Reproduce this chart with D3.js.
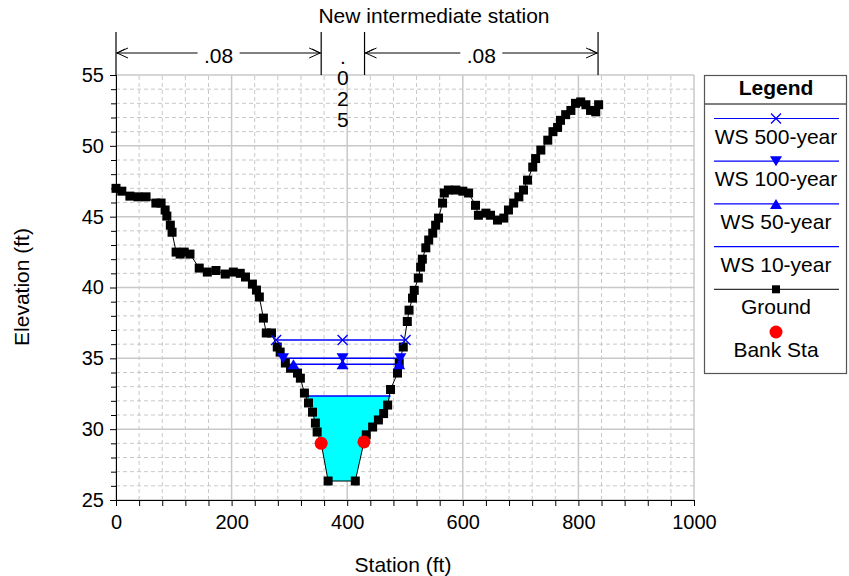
<!DOCTYPE html>
<html>
<head>
<meta charset="utf-8">
<script src="https://cdn.jsdelivr.net/npm/d3@7"></script>
<style>
  body { margin: 0; background: #fff; }
  svg { display: block; font-family: "Liberation Sans", Arial, sans-serif; }
</style>
</head>
<body>
<svg id="chart" width="849" height="576"></svg>
<script>
// ---------------- DATA ----------------
const groundStation = [0, 10, 24, 38, 52, 69, 78, 85, 88, 94, 97, 104, 111, 118, 128, 144, 158, 173, 189, 203, 215, 224, 236, 243, 248, 255, 260, 269, 279, 284, 293, 302, 314, 319, 326, 333, 340, 345, 348, 355, 367, 414, 429, 433, 444, 454, 463, 470, 475, 487, 490, 497, 504, 507, 513, 516, 523, 527, 530, 536, 541, 548, 553, 558, 565, 568, 575, 588, 600, 610, 622, 627, 640, 648, 660, 671, 679, 688, 697, 705, 712, 721, 726, 735, 747, 756, 764, 769, 778, 787, 795, 804, 813, 821, 830, 835];
const groundElev = [47.0, 46.8, 46.45, 46.4, 46.4, 45.96, 45.96, 45.47, 45.04, 44.4, 43.9, 42.5, 42.36, 42.5, 42.36, 41.37, 41.09, 41.2, 40.95, 41.09, 41.0, 40.74, 40.24, 39.82, 39.33, 37.84, 36.79, 36.79, 35.8, 35.44, 34.67, 34.3, 33.96, 33.6, 32.55, 31.85, 31.2, 30.43, 29.8, 29.0, 26.34, 26.34, 29.1, 29.6, 30.15, 30.65, 31.1, 31.7, 32.8, 33.96, 34.67, 35.8, 37.6, 38.4, 39.25, 39.8, 40.67, 41.44, 42.0, 42.8, 43.35, 43.84, 44.4, 44.9, 45.96, 46.67, 46.88, 46.88, 46.8, 46.67, 45.8, 45.1, 45.25, 45.1, 44.76, 44.9, 45.47, 45.96, 46.4, 46.88, 47.58, 48.5, 49.1, 49.7, 50.4, 51.0, 51.3, 51.8, 52.2, 52.5, 53.0, 53.1, 52.9, 52.5, 52.4, 52.9];

const bankStation = [355, 429];
const bankElev = [29.0, 29.1];

const wsNames = ["WS 500-year", "WS 100-year", "WS 50-year", "WS 10-year"];
const wsElev = [36.3, 35.0, 34.58, 32.34];
const wsLeft = [277, 289, 307, 328];
const wsRight = [501, 492, 490, 475];
const wsMarker = ["x", "down", "up", "none"];

const nBreaks = [0, 355, 430, 834];
const nValues = [".08", ".025", ".08"];
const topTitle = "New intermediate station";

const xMajorTicks = [0, 200, 400, 600, 800, 1000];
const yMajorTicks = [25, 30, 35, 40, 45, 50, 55];

// ---------------- LAYOUT ----------------
const svg = d3.select("#chart");
const x = d3.scaleLinear().domain([0, 1000]).range([116, 694]);
const y = d3.scaleLinear().domain([25, 55]).range([500, 75]);
const FS = 21;
const TFS = 20;
const blue = "#0000ff";
const MS = 9;

svg.append("rect").attr("width", 849).attr("height", 576).attr("fill", "#fff");

// grid
const xMinor = d3.range(0, 1001, 40).filter(v => !xMajorTicks.includes(v));
const yMinor = d3.range(25, 56, 1).filter(v => !yMajorTicks.includes(v));
const grid = svg.append("g");
grid.selectAll(".xm").data(xMinor).join("line")
  .attr("x1", d => x(d)).attr("x2", d => x(d)).attr("y1", y(25)).attr("y2", y(55))
  .attr("stroke", "#c8c8c8").attr("stroke-dasharray", "4,3").attr("stroke-width", 1);
grid.selectAll(".ym").data(yMinor).join("line")
  .attr("y1", d => y(d)).attr("y2", d => y(d)).attr("x1", x(0)).attr("x2", x(1000))
  .attr("stroke", "#c8c8c8").attr("stroke-dasharray", "4,3").attr("stroke-width", 1);
grid.selectAll(".xM").data(xMajorTicks).join("line")
  .attr("x1", d => x(d)).attr("x2", d => x(d)).attr("y1", y(25)).attr("y2", y(55))
  .attr("stroke", "#c8c8c8").attr("stroke-width", 1.5);
grid.selectAll(".yM").data(yMajorTicks).join("line")
  .attr("y1", d => y(d)).attr("y2", d => y(d)).attr("x1", x(0)).attr("x2", x(1000))
  .attr("stroke", "#c8c8c8").attr("stroke-width", 1.5);

// ground data
const ground = groundStation.map((s, i) => ({ s, e: groundElev[i] }));

// water fill (WS 10-year)
const wsFillIdx = 3;
function fillPolygon(elev, left, right) {
  const pts = [[left, elev]];
  ground.forEach(p => { if (p.s > left && p.s < right && p.e < elev) pts.push([p.s, p.e]); });
  pts.push([right, elev]);
  return pts;
}
svg.append("path")
  .datum(fillPolygon(wsElev[wsFillIdx], wsLeft[wsFillIdx], wsRight[wsFillIdx]))
  .attr("d", d3.line().x(d => x(d[0])).y(d => y(d[1])))
  .attr("fill", "#00ffff").attr("stroke", "none");

// WS lines
wsNames.forEach((n, i) => {
  svg.append("line")
    .attr("x1", x(wsLeft[i])).attr("x2", x(wsRight[i]))
    .attr("y1", y(wsElev[i])).attr("y2", y(wsElev[i]))
    .attr("stroke", blue).attr("stroke-width", 1.5);
});

// ground line
svg.append("path").datum(ground)
  .attr("d", d3.line().x(d => x(d.s)).y(d => y(d.e)))
  .attr("fill", "none").attr("stroke", "#000").attr("stroke-width", 1);
svg.append("g").selectAll("rect").data(ground).join("rect")
  .attr("x", d => x(d.s) - MS / 2).attr("y", d => y(d.e) - MS / 2)
  .attr("width", MS).attr("height", MS).attr("fill", "#000");

// markers
function drawMarker(g, type, cx, cy) {
  if (type === "x") {
    g.append("path").attr("d", `M${cx-5},${cy-5}L${cx+5},${cy+5}M${cx-5},${cy+5}L${cx+5},${cy-5}`)
      .attr("stroke", blue).attr("stroke-width", 1.3).attr("fill", "none");
  } else if (type === "down") {
    g.append("path").attr("d", `M${cx-6},${cy-5}L${cx+6},${cy-5}L${cx},${cy+5}Z`).attr("fill", blue);
  } else if (type === "up") {
    g.append("path").attr("d", `M${cx-6},${cy+5}L${cx+6},${cy+5}L${cx},${cy-5}Z`).attr("fill", blue);
  }
}
const mg = svg.append("g");
const channelMid = (bankStation[0] + bankStation[1]) / 2;
wsNames.forEach((n, i) => {
  if (wsMarker[i] === "none") return;
  [wsLeft[i], channelMid, wsRight[i]].forEach(s => drawMarker(mg, wsMarker[i], x(s), y(wsElev[i])));
});

// bank stations
svg.append("g").selectAll("circle").data(bankStation).join("circle")
  .attr("cx", d => x(d)).attr("cy", (d, i) => y(bankElev[i])).attr("r", 6.5).attr("fill", "#ff0000");

// axes
const yAxisMajor = d3.axisLeft(y).tickValues(yMajorTicks).tickSize(6).tickPadding(6).tickFormat(d3.format("d"));
const yAxisMinor = d3.axisLeft(y).tickValues(yMinor).tickSize(5).tickFormat("");
const xAxisMajor = d3.axisBottom(x).tickValues(xMajorTicks).tickSize(6).tickPadding(9).tickFormat(d3.format("d"));
const xAxisMinor = d3.axisBottom(x).tickValues(xMinor).tickSize(6).tickFormat("");

function styleAxis(g) {
  g.selectAll("text").attr("font-size", TFS).attr("font-family", "Liberation Sans, Arial, sans-serif").attr("fill", "#000");
  g.selectAll("line,path").attr("stroke", "#000");
}
svg.append("g").attr("transform", `translate(${x(0)},0)`).call(yAxisMinor).call(styleAxis);
svg.append("g").attr("transform", `translate(${x(0)},0)`).call(yAxisMajor).call(styleAxis);
svg.append("g").attr("transform", `translate(0,${y(25)})`).call(xAxisMinor).call(styleAxis);
svg.append("g").attr("transform", `translate(0,${y(25)})`).call(xAxisMajor).call(styleAxis);

// axis titles
svg.append("text").attr("x", 403).attr("y", 572).attr("text-anchor", "middle")
  .attr("font-size", FS).text("Station (ft)");
svg.append("text").attr("transform", "translate(29,287) rotate(-90)").attr("text-anchor", "middle")
  .attr("font-size", FS).text("Elevation (ft)");

// top annotation
svg.append("text").attr("x", 434).attr("y", 23).attr("text-anchor", "middle")
  .attr("font-size", FS).text(topTitle);
const ann = svg.append("g");
nBreaks.forEach(b => {
  ann.append("line").attr("x1", x(b)).attr("x2", x(b)).attr("y1", 32).attr("y2", y(55))
    .attr("stroke", "#000").attr("stroke-width", 1.2);
});
const arrowY = 53;
nValues.forEach((v, i) => {
  const x0 = x(nBreaks[i]), x1 = x(nBreaks[i + 1]);
  const cx = (x0 + x1) / 2;
  if (v.length <= 3) {
    ann.append("line").attr("x1", x0).attr("x2", x1).attr("y1", arrowY).attr("y2", arrowY)
      .attr("stroke", "#000").attr("stroke-width", 1);
    ann.append("path").attr("d", `M${x0+12},${arrowY-5}L${x0+1},${arrowY}L${x0+12},${arrowY+5}M${x0+9},${arrowY-4}L${x0+1},${arrowY}`)
      .attr("fill", "none").attr("stroke", "#000").attr("stroke-width", 1);
    ann.append("path").attr("d", `M${x1-12},${arrowY-5}L${x1-1},${arrowY}L${x1-12},${arrowY+5}M${x1-9},${arrowY-4}L${x1-1},${arrowY}`)
      .attr("fill", "none").attr("stroke", "#000").attr("stroke-width", 1);
    ann.append("rect").attr("x", cx - 21).attr("y", arrowY - 8).attr("width", 42).attr("height", 16).attr("fill", "#fff");
    ann.append("text").attr("x", cx).attr("y", arrowY + 10).attr("text-anchor", "middle")
      .attr("font-size", FS).text(v);
  } else {
    // too narrow: stack characters vertically
    const chars = v.split("");
    chars.forEach((c, k) => {
      ann.append("text").attr("x", cx).attr("y", 64 + k * 21).attr("text-anchor", "middle")
        .attr("font-size", FS).text(c);
    });
  }
});

// legend
const lg = svg.append("g");
lg.append("rect").attr("x", 704.5).attr("y", 75.5).attr("width", 142).attr("height", 298)
  .attr("fill", "#fff").attr("stroke", "#555").attr("stroke-width", 1.2);
lg.append("text").attr("x", 776).attr("y", 95).attr("text-anchor", "middle")
  .attr("font-size", FS).attr("font-weight", "bold").text("Legend");
lg.append("line").attr("x1", 705).attr("x2", 846).attr("y1", 104).attr("y2", 104).attr("stroke", "#000");
const legX0 = 714, legX1 = 839, legCx = 776;
const itemStep = 42.7;
wsNames.forEach((n, i) => {
  const ly = 118.5 + i * itemStep;
  lg.append("line").attr("x1", legX0).attr("x2", legX1).attr("y1", ly).attr("y2", ly)
    .attr("stroke", blue).attr("stroke-width", 1.2);
  drawMarker(lg, wsMarker[i], legCx, ly);
  lg.append("text").attr("x", legCx).attr("y", ly + 25).attr("text-anchor", "middle")
    .attr("font-size", FS).text(n);
});
{
  const ly = 118.5 + 4 * itemStep;
  lg.append("line").attr("x1", legX0).attr("x2", legX1).attr("y1", ly).attr("y2", ly)
    .attr("stroke", "#333").attr("stroke-width", 1.2);
  lg.append("rect").attr("x", legCx - 4).attr("y", ly - 4).attr("width", 8).attr("height", 8).attr("fill", "#000");
  lg.append("text").attr("x", legCx).attr("y", ly + 25).attr("text-anchor", "middle").attr("font-size", FS).text("Ground");
  const by = 118.5 + 5 * itemStep;
  lg.append("circle").attr("cx", legCx).attr("cy", by).attr("r", 6.5).attr("fill", "#ff0000");
  lg.append("text").attr("x", legCx).attr("y", by + 25).attr("text-anchor", "middle").attr("font-size", FS).text("Bank Sta");
}
</script>
</body>
</html>
